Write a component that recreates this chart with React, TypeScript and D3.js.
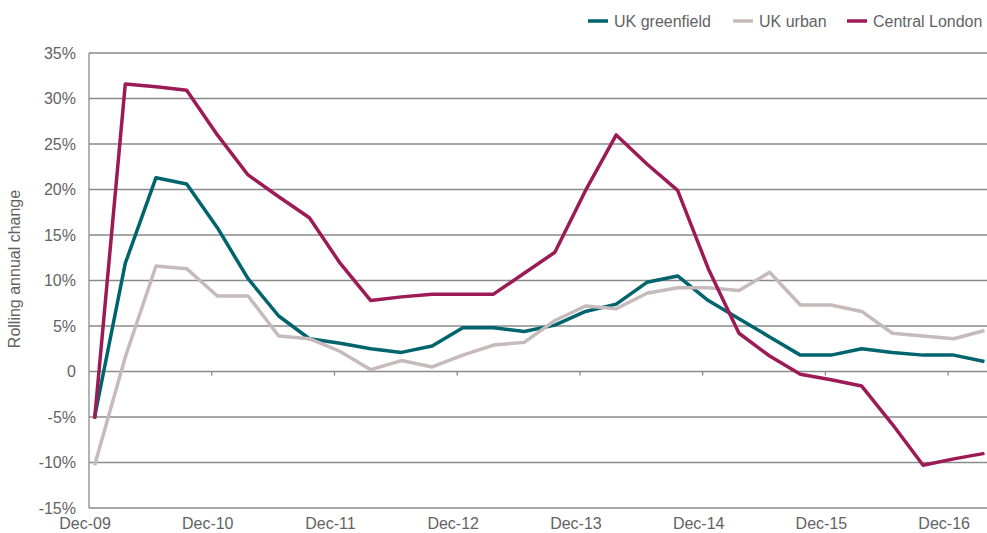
import React from 'react';
import * as d3 from 'd3';

// quarterly points, Dec-09 .. Mar-17
const quarters = [
  'Dec-09', 'Mar-10', 'Jun-10', 'Sep-10', 'Dec-10', 'Mar-11', 'Jun-11', 'Sep-11',
  'Dec-11', 'Mar-12', 'Jun-12', 'Sep-12', 'Dec-12', 'Mar-13', 'Jun-13', 'Sep-13',
  'Dec-13', 'Mar-14', 'Jun-14', 'Sep-14', 'Dec-14', 'Mar-15', 'Jun-15', 'Sep-15',
  'Dec-15', 'Mar-16', 'Jun-16', 'Sep-16', 'Dec-16', 'Mar-17',
];

const ukGreenfield = [
  -5.0, 11.9, 21.3, 20.6, 15.8, 10.2, 6.1, 3.6, 3.1, 2.5, 2.1, 2.8, 4.8, 4.8, 4.4,
  5.1, 6.6, 7.4, 9.8, 10.5, 7.8, 5.8, 3.8, 1.8, 1.8, 2.5, 2.1, 1.8, 1.8, 1.1,
];

const ukUrban = [
  -10.3, 1.6, 11.6, 11.3, 8.3, 8.3, 3.9, 3.6, 2.2, 0.2, 1.2, 0.5, 1.8, 2.9, 3.2,
  5.6, 7.2, 6.9, 8.6, 9.2, 9.2, 8.9, 10.9, 7.3, 7.3, 6.6, 4.2, 3.9, 3.6, 4.5,
];

const centralLondon = [
  -5.2, 31.6, 31.3, 30.9, 26.0, 21.6, 19.2, 16.9, 11.9, 7.8, 8.2, 8.5, 8.5, 8.5, 10.8,
  13.1, 19.9, 26.0, 22.8, 19.9, 11.3, 4.2, 1.7, -0.3, -0.9, -1.6, -5.8, -10.3, -9.6, -9.0,
];

const xTickLabels = ['Dec-09', 'Dec-10', 'Dec-11', 'Dec-12', 'Dec-13', 'Dec-14', 'Dec-15', 'Dec-16'];
const yTicks = [-15, -10, -5, 0, 5, 10, 15, 20, 25, 30, 35];

const series = [
  { name: 'UK greenfield', values: ukGreenfield, color: '#00646d' },
  { name: 'UK urban', values: ukUrban, color: '#c6babd' },
  { name: 'Central London', values: centralLondon, color: '#9c1b56' },
];

const W = 987;
const H = 533;
const margin = { top: 53, right: 0, bottom: 25, left: 89 };
const font = '"Liberation Sans", Arial, Helvetica, sans-serif';
const textColor = '#636363';
const gridColor = '#8a8a8a';

export default function App() {
  // x in months since Dec-09; points sit a little past the start of their month
  const x = d3.scaleLinear()
    .domain([0, 87.8])
    .range([margin.left, W - margin.right]);

  const y = d3.scaleLinear()
    .domain([-15, 35])
    .range([H - margin.bottom, margin.top]);

  const monthOf = (i: number) => i * 3 + 0.55;

  const line = d3.line<number>()
    .x((d, i) => x(monthOf(i)))
    .y(d => y(d));

  const fmt = (v: number) => (v === 0 ? '0' : `${v}%`);

  const legend = [
    { ...series[0], x: 588 },
    { ...series[1], x: 733 },
    { ...series[2], x: 847 },
  ];

  return (
    <svg width={W} height={H} style={{ position: 'absolute', left: 0, top: 0 }} fontFamily={font}>
      <rect width={W} height={H} fill="#fff" />

      {/* gridlines */}
      {yTicks.map(t => (
        <line key={t} x1={margin.left} x2={W - margin.right} y1={y(t)} y2={y(t)}
          stroke={gridColor} strokeWidth={1.3} />
      ))}
      <line x1={margin.left} x2={margin.left} y1={y(35)} y2={y(-15)} stroke={gridColor} strokeWidth={1.3} />

      {/* ticks on the zero line */}
      {xTickLabels.map((lab, i) => i > 0 && (
        <line key={lab} x1={x(i * 12)} x2={x(i * 12)} y1={y(0)} y2={y(0) + 4}
          stroke={gridColor} strokeWidth={1.3} />
      ))}

      {/* y labels */}
      {yTicks.map(t => (
        <text key={t} x={76} y={y(t)} dy="0.36em" textAnchor="end" fontSize={16} fill={textColor}>
          {fmt(t)}
        </text>
      ))}

      {/* x labels */}
      {xTickLabels.map((lab, i) => (
        <text key={lab} x={x(i * 12) - 4} y={529} textAnchor="middle" fontSize={16} fill={textColor}>
          {lab}
        </text>
      ))}

      <text transform={`translate(20, 269) rotate(-90)`} textAnchor="middle" fontSize={16} fill={textColor}>
        Rolling annual change
      </text>

      {/* lines */}
      {series.map(s => (
        <path key={s.name} d={line(s.values) || ''} fill="none" stroke={s.color}
          strokeWidth={3.5} strokeLinejoin="round" />
      ))}

      {/* legend */}
      {legend.map(l => (
        <g key={l.name} transform={`translate(${l.x}, 21)`}>
          <line x1={0} x2={20} y1={0} y2={0} stroke={l.color} strokeWidth={3.5} />
          <text x={26} y={0} dy="0.36em" fontSize={16} fill={textColor}>{l.name}</text>
        </g>
      ))}
    </svg>
  );
}
